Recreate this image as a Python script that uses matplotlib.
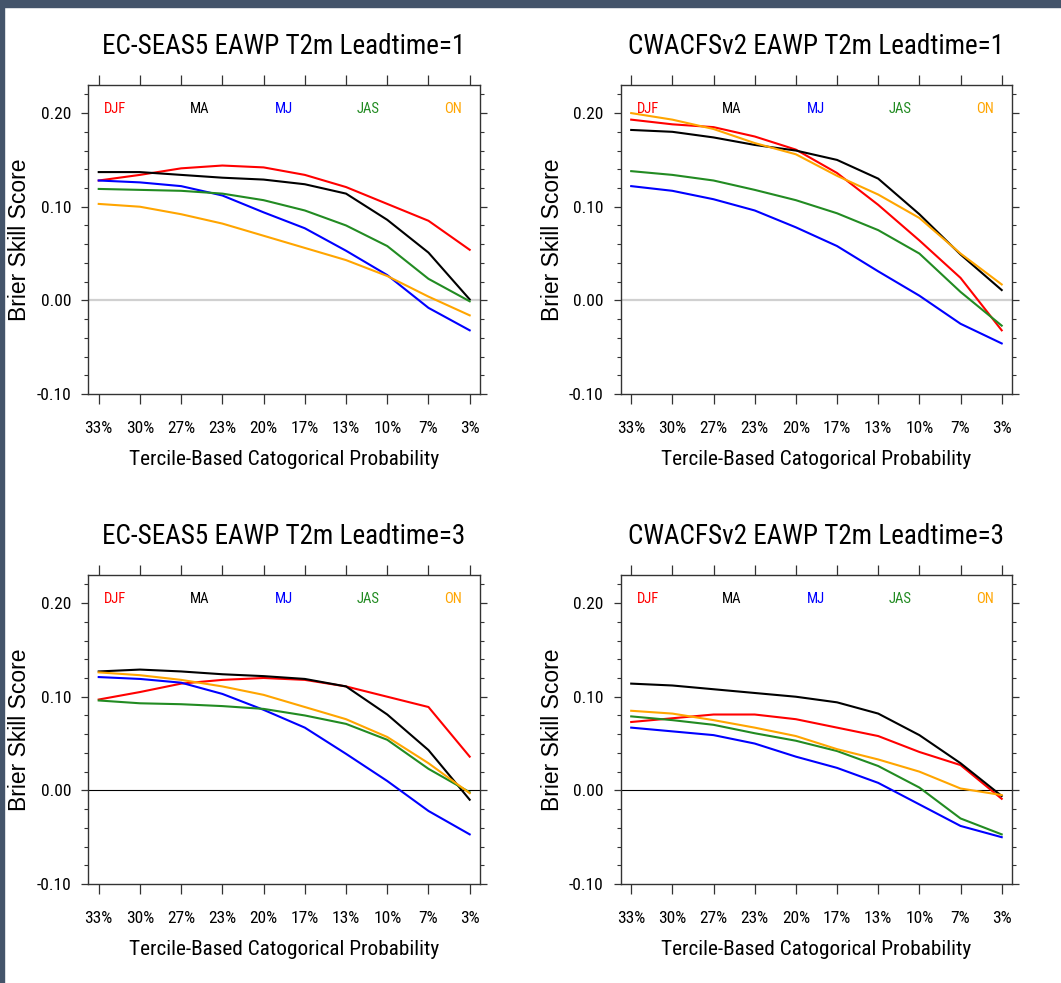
import matplotlib
matplotlib.use("Agg")
import matplotlib.pyplot as plt
from matplotlib import font_manager as fm
import numpy as np

# ---------------- data ----------------
x_labels = ["33%", "30%", "27%", "23%", "20%", "17%", "13%", "10%", "7%", "3%"]
seasons = ["DJF", "MA", "MJ", "JAS", "ON"]
season_colors = ["#ff0000", "#000000", "#0000ff", "#228b22", "#ffa500"]

titles = [
    "EC-SEAS5 EAWP T2m Leadtime=1",
    "CWACFSv2 EAWP T2m Leadtime=1",
    "EC-SEAS5 EAWP T2m Leadtime=3",
    "CWACFSv2 EAWP T2m Leadtime=3",
]

ec1_djf = [0.128, 0.134, 0.141, 0.144, 0.142, 0.134, 0.121, 0.103, 0.085, 0.054]
ec1_ma  = [0.137, 0.137, 0.134, 0.131, 0.129, 0.124, 0.114, 0.086, 0.051, 0.001]
ec1_mj  = [0.128, 0.126, 0.122, 0.112, 0.094, 0.077, 0.053, 0.027, -0.008, -0.032]
ec1_jas = [0.119, 0.118, 0.117, 0.114, 0.107, 0.096, 0.080, 0.058, 0.023, -0.001]
ec1_on  = [0.103, 0.100, 0.092, 0.082, 0.069, 0.056, 0.043, 0.026, 0.004, -0.016]

cw1_djf = [0.193, 0.188, 0.185, 0.175, 0.161, 0.136, 0.102, 0.064, 0.024, -0.032]
cw1_ma  = [0.182, 0.180, 0.174, 0.166, 0.160, 0.150, 0.130, 0.092, 0.049, 0.011]
cw1_mj  = [0.122, 0.117, 0.108, 0.096, 0.078, 0.058, 0.031, 0.005, -0.025, -0.046]
cw1_jas = [0.138, 0.134, 0.128, 0.118, 0.107, 0.093, 0.075, 0.050, 0.009, -0.027]
cw1_on  = [0.200, 0.193, 0.183, 0.168, 0.156, 0.133, 0.113, 0.088, 0.050, 0.017]

ec3_djf = [0.097, 0.105, 0.114, 0.118, 0.120, 0.118, 0.111, 0.100, 0.089, 0.036]
ec3_ma  = [0.127, 0.129, 0.127, 0.124, 0.122, 0.119, 0.111, 0.081, 0.043, -0.010]
ec3_mj  = [0.121, 0.119, 0.115, 0.103, 0.086, 0.067, 0.039, 0.010, -0.022, -0.047]
ec3_jas = [0.096, 0.093, 0.092, 0.090, 0.087, 0.080, 0.071, 0.054, 0.023, -0.002]
ec3_on  = [0.126, 0.123, 0.118, 0.111, 0.102, 0.089, 0.076, 0.057, 0.029, -0.003]

cw3_djf = [0.073, 0.077, 0.081, 0.081, 0.076, 0.067, 0.058, 0.041, 0.027, -0.009]
cw3_ma  = [0.114, 0.112, 0.108, 0.104, 0.100, 0.094, 0.082, 0.059, 0.029, -0.006]
cw3_mj  = [0.067, 0.063, 0.059, 0.050, 0.036, 0.024, 0.008, -0.015, -0.038, -0.050]
cw3_jas = [0.079, 0.075, 0.070, 0.061, 0.053, 0.042, 0.026, 0.003, -0.030, -0.047]
cw3_on  = [0.085, 0.082, 0.075, 0.067, 0.058, 0.044, 0.033, 0.020, 0.002, -0.005]

panels = [
    [ec1_djf, ec1_ma, ec1_mj, ec1_jas, ec1_on],
    [cw1_djf, cw1_ma, cw1_mj, cw1_jas, cw1_on],
    [ec3_djf, ec3_ma, ec3_mj, ec3_jas, ec3_on],
    [cw3_djf, cw3_ma, cw3_mj, cw3_jas, cw3_on],
]

# ---------------- font selection (narrow sans, like the condensed Helvetica) ----------------
_narrow = [f for f in fm.fontManager.ttflist
           if f.name == "Roboto Condensed" and f.style == "normal"]
_narrow.sort(key=lambda f: ("wght" not in f.fname, f.fname))
NARROW_FILE = _narrow[0].fname if _narrow else None


def fp(size, narrow=True):
    if narrow and NARROW_FILE:
        return fm.FontProperties(fname=NARROW_FILE, size=size)
    return fm.FontProperties(family=["Liberation Sans", "DejaVu Sans"], size=size)


# ---------------- figure ----------------
W, H = 1061, 983
fig = plt.figure(figsize=(W / 100, H / 100), dpi=100)
fig.patch.set_facecolor("white")

# dark frame strips (top and left)
fig.add_artist(plt.Rectangle((0, 1 - 7 / H), 1, 7 / H, transform=fig.transFigure,
                             color="#44546a", zorder=0))
fig.add_artist(plt.Rectangle((0, 0), 4 / W, 1, transform=fig.transFigure,
                             color="#44546a", zorder=0))

# axes boxes in pixels: (left, top, right, bottom)
boxes = [(88, 85, 480, 394), (620.5, 85, 1012, 394),
         (88, 575, 480, 884), (620.5, 575, 1012, 884)]
zero_styles = [dict(color="#d0d0d0", lw=1.6), dict(color="#d0d0d0", lw=1.6),
               dict(color="#000000", lw=0.8), dict(color="#000000", lw=0.8)]

spine_col = "#333333"
xs = np.arange(len(x_labels))

for k, (l, t, r, b) in enumerate(boxes):
    ax = fig.add_axes([l / W, 1 - b / H, (r - l) / W, (b - t) / H])
    ax.axhline(0, zorder=1, **zero_styles[k])
    for vals, col in zip(panels[k], season_colors):
        ax.plot(xs, vals, color=col, lw=1.5, zorder=2, solid_joinstyle="round")
    ax.set_xlim(-0.26, 9.25)
    ax.set_ylim(-0.10, 0.23)
    ax.set_xticks(xs)
    ax.set_xticklabels(x_labels, fontproperties=fp(12.5))
    ax.set_yticks([-0.10, 0.00, 0.10, 0.20])
    ax.set_yticklabels(["-0.10", "0.00", "0.10", "0.20"], fontproperties=fp(12.5))
    ax.set_yticks(np.arange(-0.10, 0.2201, 0.02), minor=True)
    ax.tick_params(axis="x", which="major", direction="out", length=7.2, width=0.9,
                   color=spine_col, top=True, bottom=True, labeltop=False, pad=12)
    ax.tick_params(axis="y", which="major", direction="out", length=5.2, width=0.9,
                   color=spine_col, left=True, right=True, labelright=False, pad=7)
    ax.tick_params(axis="y", which="minor", direction="out", length=2.6, width=0.8,
                   color=spine_col, left=True, right=True)
    ax.tick_params(axis="x", which="minor", bottom=False, top=False)
    for s in ax.spines.values():
        s.set_color(spine_col)
        s.set_linewidth(1.0)
    # season labels
    for i, (name, col) in enumerate(zip(seasons, season_colors)):
        ax.text(0.07 + 0.215 * i, 0.921, name, transform=ax.transAxes, color=col,
                fontproperties=fp(10.5), ha="center", va="center")
    cx = (l + r) / 2 / W
    fig.text(cx, 1 - (t - 31) / H, titles[k], ha="center", va="baseline",
             fontproperties=fp(19.5))
    fig.text(cx, 1 - (b + 71) / H, "Tercile-Based Catogorical Probability",
             ha="center", va="baseline", fontproperties=fp(15.3))
    fig.text((l - 68) / W, 1 - (t + b) / 2 / H, "Brier Skill Score", rotation=90,
             ha="center", va="center", fontproperties=fp(16.5, narrow=False))

fig.savefig("out.png", dpi=100)
